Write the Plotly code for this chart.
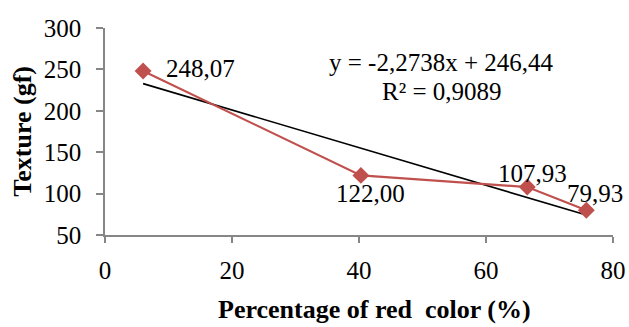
import plotly.graph_objects as go

red_pct = [6.0, 40.3, 66.5, 75.8]
texture = [248.07, 122.00, 107.93, 79.93]
labels = ["248,07", "122,00", "107,93", "79,93"]
slope = -2.2738
intercept = 246.44
eq_text = "y = -2,2738x + 246,44"
r2_text = "R² = 0,9089"
x_ticks = [0, 20, 40, 60, 80]
y_ticks = [50, 100, 150, 200, 250, 300]

FONT = "Liberation Serif"

trend_x = [min(red_pct), max(red_pct)]
trend_y = [slope * v + intercept for v in trend_x]

fig = go.Figure()
fig.add_trace(go.Scatter(x=trend_x, y=trend_y, mode="lines",
                         line=dict(color="black", width=1.6), showlegend=False))
fig.add_trace(go.Scatter(x=red_pct, y=texture, mode="lines+markers",
                         line=dict(color="#C0504D", width=2.2),
                         marker=dict(symbol="diamond", size=13, color="#C0504D"),
                         showlegend=False))

shifts = [(57, 3), (10, -18), (5, 14), (9, 17)]
for xv, yv, t, (dx, dy) in zip(red_pct, texture, labels, shifts):
    fig.add_annotation(x=xv, y=yv, text=t, showarrow=False, xshift=dx, yshift=dy,
                       xanchor="center", yanchor="middle",
                       font=dict(family=FONT, size=25, color="black"))

fig.add_annotation(xref="paper", yref="paper", x=0.663, y=0.831, text=eq_text,
                   showarrow=False, xanchor="center", yanchor="middle",
                   font=dict(family=FONT, size=25, color="black"))
fig.add_annotation(xref="paper", yref="paper", x=0.663, y=0.691, text=r2_text,
                   showarrow=False, xanchor="center", yanchor="middle",
                   font=dict(family=FONT, size=25, color="black"))
fig.add_annotation(xref="paper", yref="paper", x=0.53, y=-0.362,
                   text="<b>Percentage of red  color (%)</b>", showarrow=False,
                   xanchor="center", yanchor="middle",
                   font=dict(family=FONT, size=26, color="black"))
fig.add_annotation(xref="paper", yref="paper", x=-0.163, y=0.5, textangle=-90,
                   text="<b>Texture (gf)</b>", showarrow=False,
                   xanchor="center", yanchor="middle",
                   font=dict(family=FONT, size=26, color="black"))

fig.update_xaxes(range=[0, 80], tickvals=x_ticks, showgrid=False, zeroline=False,
                 showline=True, linecolor="#868686", linewidth=1.5, automargin=False,
                 ticks="outside", ticklen=6, tickcolor="#868686", tickwidth=1.5,
                 ticklabelstandoff=6,
                 tickfont=dict(family=FONT, size=25, color="black"))
fig.update_yaxes(range=[50, 300], tickvals=y_ticks, showgrid=False, zeroline=False,
                 showline=True, linecolor="#868686", linewidth=1.5, automargin=False,
                 ticks="outside", ticklen=7, tickcolor="#868686", tickwidth=1.5,
                 ticklabelstandoff=10,
                 tickfont=dict(family=FONT, size=25, color="black"))

fig.update_layout(width=629, height=327, margin=dict(l=105, r=16, t=28, b=92),
                  plot_bgcolor="white", paper_bgcolor="white")

fig.write_html("out.html")
